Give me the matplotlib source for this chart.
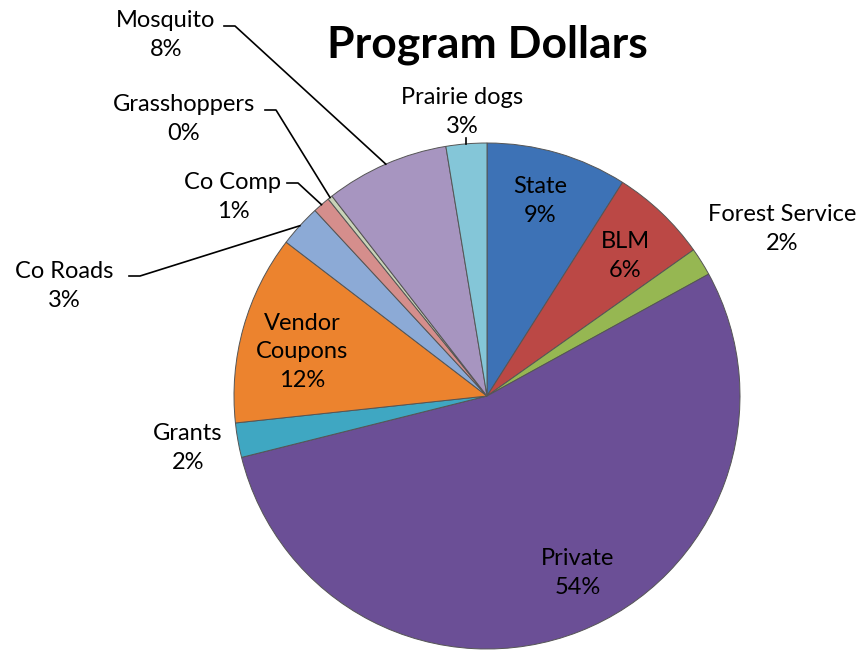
import numpy as np
import matplotlib.pyplot as plt

# slice values, read clockwise from 12 o'clock
names = ["State", "BLM", "Forest Service", "Private", "Grants", "Vendor\nCoupons",
         "Co Roads", "Co Comp", "Grasshoppers", "Mosquito", "Prairie dogs"]
values = [9.0, 6.2, 1.8, 54.1, 2.2, 12.1, 2.7, 1.1, 0.3, 7.9, 2.6]
colors = ["#3D72B6", "#BB4845", "#96B752", "#6B4F96", "#3FA7C2", "#EC832E",
          "#8CAAD6", "#D58E8C", "#C9D3B8", "#A795C0", "#84C6D8"]

H = 652  # figure height in px, text positions below are given from the top

# label centre (x, y from top) and, for outside labels, where the leader starts
label_pos = {
    "State": (540, 201), "BLM": (625, 256), "Forest Service": (782, 229),
    "Private": (578, 573), "Grants": (188, 448), "Vendor\nCoupons": (302, 352),
    "Co Roads": (64, 286), "Co Comp": (233, 197), "Grasshoppers": (184, 119),
    "Mosquito": (166, 35), "Prairie dogs": (462, 112),
}
leader_start = {
    "Co Roads": (129, 276), "Co Comp": (287, 183), "Grasshoppers": (265, 110),
    "Mosquito": (224, 26),
}

fig = plt.figure(figsize=(8.64, 6.52), dpi=100)
ax = fig.add_axes([0, 0, 1, 1])
cx, cy, r = 487, H - 396, 253
wedges, _ = ax.pie(values, colors=colors, startangle=90, counterclock=False,
                   center=(cx, cy), radius=r,
                   wedgeprops=dict(edgecolor="#555555", linewidth=0.7))
ax.set_xlim(0, 864)
ax.set_ylim(0, H)
ax.set_aspect("equal")
ax.axis("off")

font = "Lato"
for name, v, w in zip(names, values, wedges):
    x, y = label_pos[name]
    ax.text(x, H - y, f"{name}\n{round(v)}%", ha="center", va="center",
            fontsize=17, family=font, color="black", linespacing=1.45)
    mid = np.deg2rad((w.theta1 + w.theta2) / 2)
    ex, ey = cx + r * np.cos(mid), cy + r * np.sin(mid)
    if name in leader_start:
        sx, sy = leader_start[name]
        ax.plot([sx, sx + 11, ex], [H - sy, H - sy, ey], color="black", lw=1.2)
    if name == "Prairie dogs":
        ax.plot([ex, ex], [ey, H - 138], color="black", lw=1.2)

ax.text(487, H - 45, "Program Dollars", ha="center", va="center",
        fontsize=32, fontweight="bold", family=font)

fig.savefig("out.png", dpi=100)
